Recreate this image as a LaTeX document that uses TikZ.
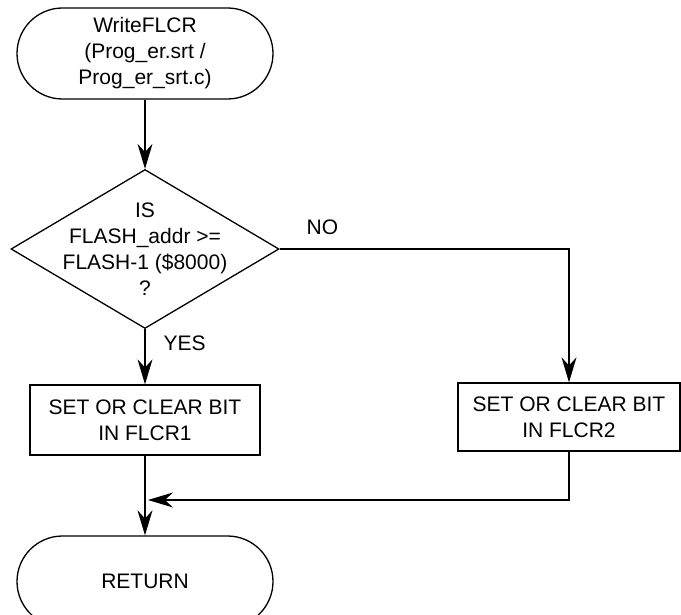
\documentclass[tikz,border=0pt]{standalone}
\usepackage{fontspec}
\setmainfont{Liberation Sans}
\usetikzlibrary{arrows.meta, shapes.geometric}
\tikzset{
    base/.style={draw,line width=1.3pt,font=\fontsize{21}{26}\selectfont,align=center,inner sep=0pt},
    term/.style={base,rectangle,rounded corners=45.5pt,minimum width=256pt,minimum height=91pt},
    proc/.style={base,rectangle,minimum height=70pt},
    decide/.style={base,diamond,minimum width=268pt,minimum height=159pt},
    lbl/.style={fill=none,draw=none,font=\fontsize{21}{26}\selectfont,inner sep=0pt},
    arrowline/.style={draw,line width=1.3pt,-{Stealth[length=25pt,width=15pt]}},
    flow/.style={
        every edge/.style=arrowline,
    }
}

\begin{document}
\begin{tikzpicture}[x=1pt,y=-1pt]
\useasboundingbox (0,0) rectangle (681,615);
\node[term]   (start) at (145,53.5) {WriteFLCR\\(Prog\_er.srt /\\Prog\_er\_srt.c)};
\node[decide,label={[lbl,align=center]center:IS\\FLASH\_addr >=\\FLASH-1 (\$8000)\\?}] (dec) at (145,249) {};
\node[proc,minimum width=230pt] (left)  at (145,420) {SET OR CLEAR BIT\\IN FLCR1};
\node[proc,minimum width=222pt,minimum height=68pt] (right) at (569,417) {SET OR CLEAR BIT\\IN FLCR2};
\node[term]   (ret)   at (145,581.5) {RETURN};
\coordinate (join) at (148,500);
\path[flow]
    (start) edge (dec)
    (dec) edge node[lbl,right=18pt,pos=0.26] {YES} (left)
    (left) edge (ret)
;
\draw[arrowline] (dec) -| node[lbl,above=14pt,pos=0.074] {NO} (right);
\draw[arrowline] (right) |- (join);
\end{tikzpicture}
\end{document}
